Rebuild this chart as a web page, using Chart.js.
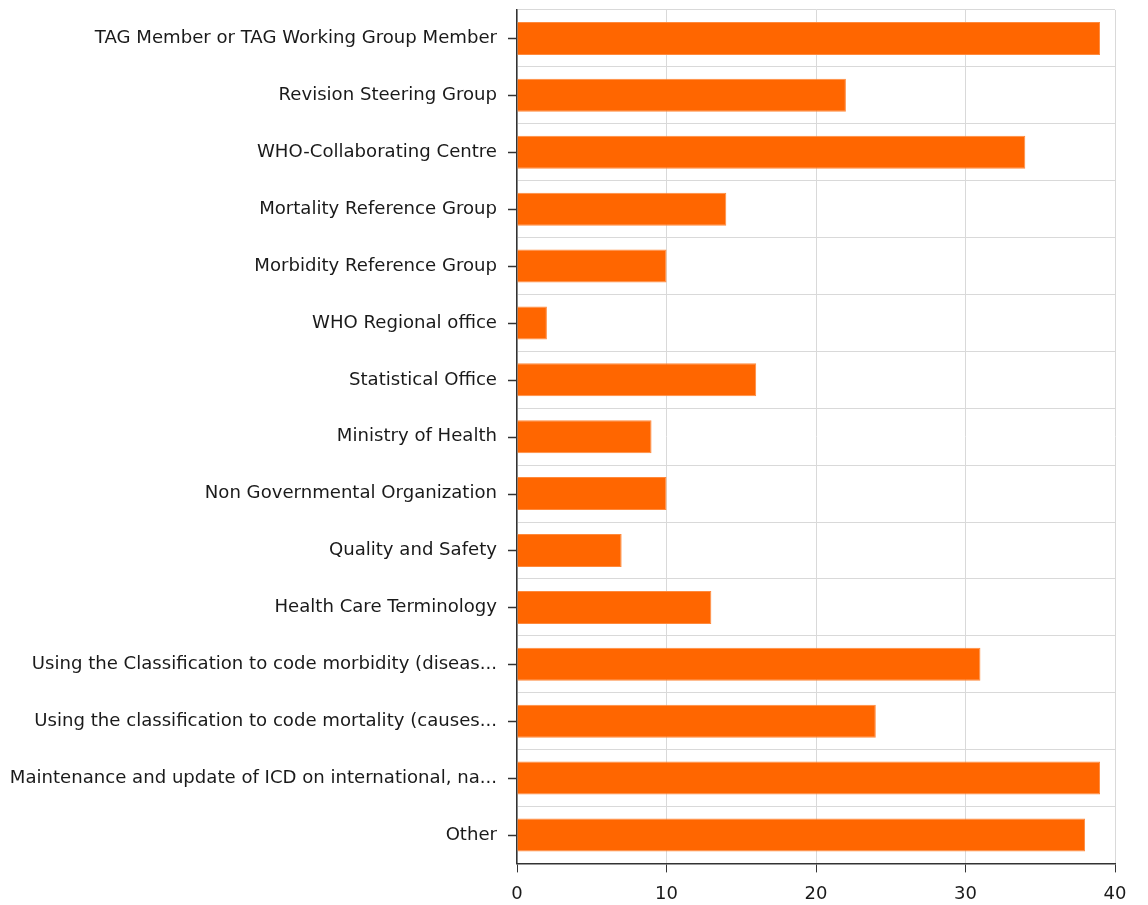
<!DOCTYPE html>
<html>
<head>
<meta charset="utf-8">
<script src="https://cdn.jsdelivr.net/npm/chart.js@4/dist/chart.umd.min.js"></script>
<style>
html,body{margin:0;padding:0;background:#fff;}
#wrap{width:1148px;height:905px;}
</style>
</head>
<body>
<div id="wrap"><canvas id="barChart" width="1148" height="905"></canvas></div>
<script>
const categories = [
"TAG Member or TAG Working Group Member",
"Revision Steering Group",
"WHO-Collaborating Centre",
"Mortality Reference Group",
"Morbidity Reference Group",
"WHO Regional office",
"Statistical Office",
"Ministry of Health",
"Non Governmental Organization",
"Quality and Safety",
"Health Care Terminology",
"Using the Classification to code morbidity (diseas...",
"Using the classification to code mortality (causes...",
"Maintenance and update of ICD on international, na...",
"Other"
];

const counts = [39, 22, 34, 14, 10, 2, 16, 9, 10, 7, 13, 31, 24, 39, 38];

const xTicks = [0, 10, 20, 30, 40];

// small tick marks at the category centres (grid lines sit between categories)
const centreTicks = {
id: "centreTicks",
afterDraw(chart){
const y = chart.scales.y;
const ctx = chart.ctx;
ctx.save();
ctx.strokeStyle = "#333";
ctx.lineWidth = 1.5;
for(let i=0;i<categories.length;i++){
const py = Math.round(y.getPixelForTick(i)) + 0.5;
ctx.beginPath();
ctx.moveTo(y.right - 9, py);
ctx.lineTo(y.right, py);
ctx.stroke();
}
ctx.restore();
}
};

new Chart(document.getElementById("barChart"),{
type:"bar",
data:{
labels:categories,
datasets:[{
data:counts,
backgroundColor:"#ff6600",
borderColor:"#ff8a3d",
borderWidth:1,
barPercentage:0.58,
categoryPercentage:1
}]
},
options:{
indexAxis:"y",
responsive:false,
animation:false,
layout:{padding:{top:10,right:33,bottom:-11,left:0}},
plugins:{legend:{display:false},tooltip:{enabled:false}},
scales:{
x:{
min:0,
max:40,
afterBuildTicks(axis){ axis.ticks = xTicks.map(v => ({value:v})); },
grid:{color:"#d9d9d9",tickLength:9,tickColor:"#333"},
border:{color:"#333",width:1.5},
ticks:{color:"#1a1a1a",font:{family:"DejaVu Sans",size:18},padding:11}
},
y:{
afterFit(axis){ axis.width = 517; axis.paddingTop = 0; axis.paddingBottom = 0; },
grid:{offset:true,color:"#d9d9d9",drawTicks:false},
border:{color:"#333",width:1.5},
ticks:{color:"#1a1a1a",font:{family:"DejaVu Sans",size:18.1},padding:20,autoSkip:false}
}
}
},
plugins:[centreTicks]
});
</script>
</body>
</html>
